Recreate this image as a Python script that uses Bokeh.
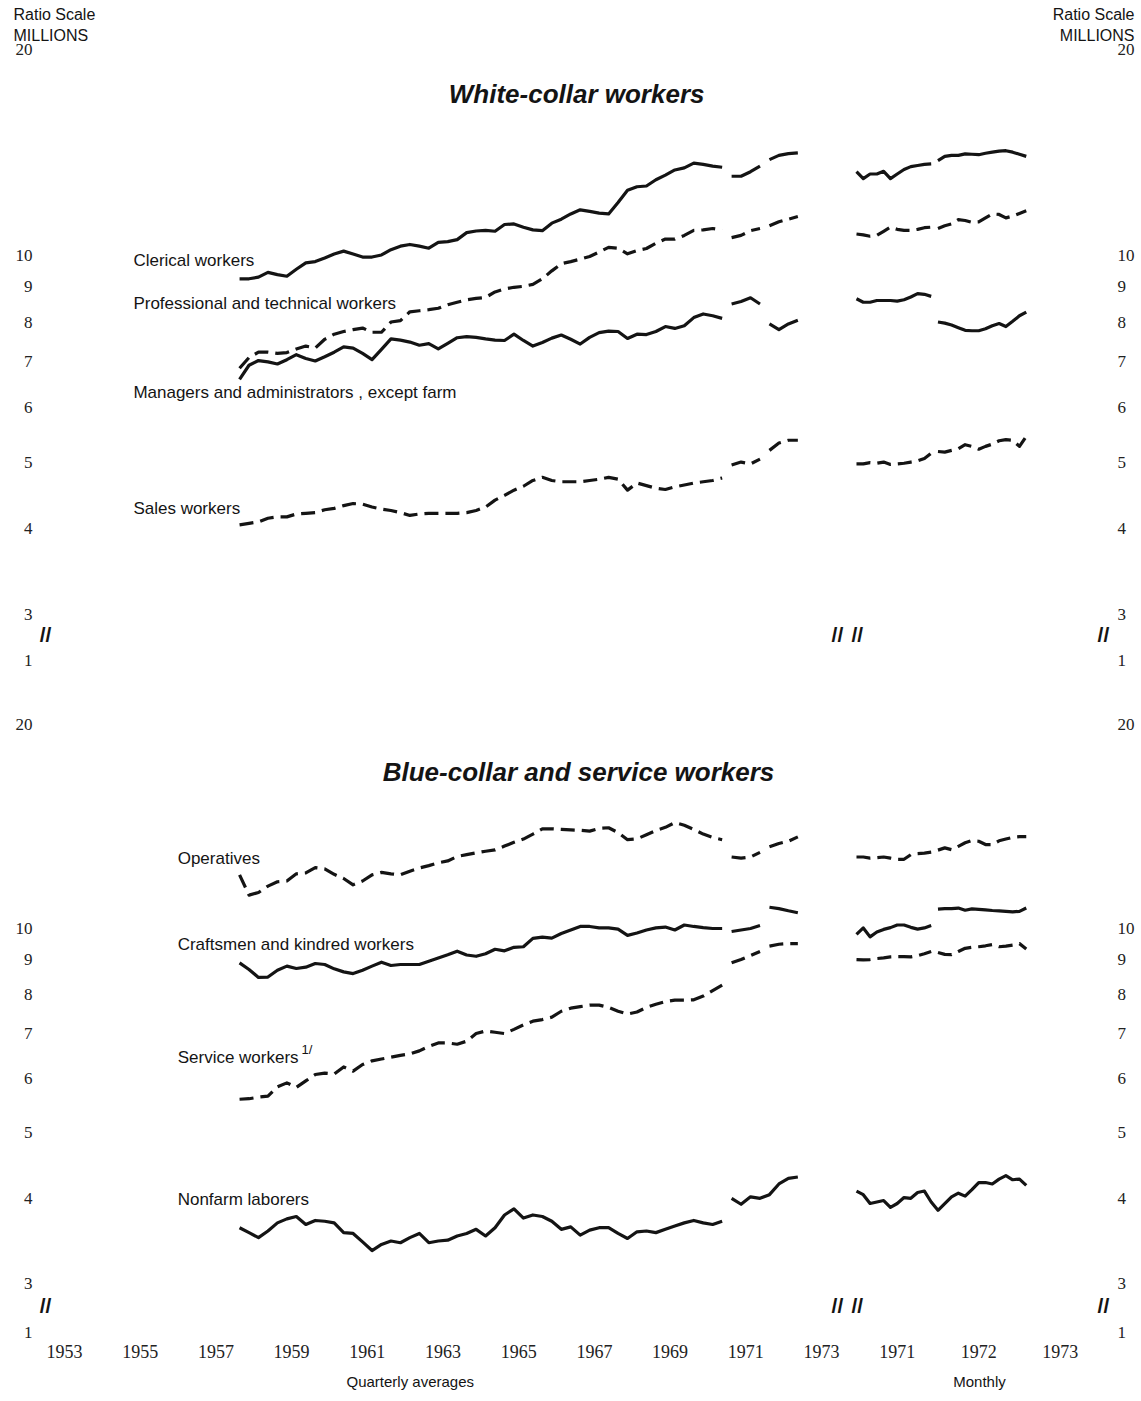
from bokeh.plotting import figure
from bokeh.layouts import column, row
from bokeh.models import FixedTicker, CustomJSTickFormatter, Label, Range1d, Title
from bokeh.embed import file_html
from bokeh.resources import INLINE

# ---------------- time axes ----------------
q_years = [1958 + 0.125 + 0.25 * i for i in range(52)]          # 1958Q1 .. 1970Q4
q71_t = [1971.125, 1971.375, 1971.625, 1971.875]
q72_t = [1972.125, 1972.375, 1972.625, 1972.875]
m71_t = [1971 + i / 12 for i in range(12)]                      # Jan..Dec 1971
m72_t = [1972 + i / 12 for i in range(14)]                      # Jan 1972 .. Feb 1973

q_tick_years = [1953, 1955, 1957, 1959, 1961, 1963, 1965, 1967, 1969, 1971, 1973]
m_tick_years = [1971, 1972, 1973]
y_ticks = [3, 4, 5, 6, 7, 8, 9, 10, 20]

# ---------------- white-collar (millions) ----------------
clerical_q = [9.25, 9.25, 9.3, 9.45, 9.38, 9.33, 9.55, 9.76, 9.8, 9.92,
              10.05, 10.15, 10.05, 9.95, 9.95, 10.02, 10.2, 10.32, 10.38, 10.32,
              10.25, 10.45, 10.48, 10.55, 10.8, 10.86, 10.88, 10.85, 11.1, 11.12,
              11.0, 10.9, 10.87, 11.15, 11.3, 11.5, 11.66, 11.6, 11.53, 11.5,
              11.95, 12.45, 12.6, 12.63, 12.9, 13.1, 13.33, 13.42, 13.64, 13.58,
              13.5, 13.45]
clerical_q71 = [13.05, 13.05, 13.25, 13.5]
clerical_q72 = [13.8, 14.0, 14.08, 14.12]
clerical_m71 = [13.25, 12.95, 13.15, 13.15, 13.27, 12.95, 13.15, 13.35, 13.48, 13.53, 13.58, 13.6]
clerical_m72 = [13.75, 13.95, 14.0, 14.0, 14.07, 14.05, 14.03, 14.1, 14.15, 14.2, 14.22, 14.15, 14.05, 13.95]

prof_q = [6.85, 7.1, 7.23, 7.23, 7.2, 7.22, 7.31, 7.38, 7.33, 7.55,
          7.68, 7.75, 7.8, 7.84, 7.73, 7.73, 8.0, 8.04, 8.28, 8.31,
          8.34, 8.38, 8.48, 8.55, 8.62, 8.66, 8.69, 8.85, 8.94, 8.99,
          9.02, 9.08, 9.25, 9.5, 9.73, 9.8, 9.88, 9.97, 10.12, 10.28,
          10.25, 10.06, 10.17, 10.24, 10.42, 10.57, 10.57, 10.7, 10.88, 10.9,
          10.95, 10.9]
prof_q71 = [10.62, 10.7, 10.87, 10.95]
prof_q72 = [11.05, 11.2, 11.3, 11.4]
prof_m71 = [10.75, 10.72, 10.67, 10.7, 10.85, 11.0, 10.92, 10.88, 10.88, 10.92, 10.98, 11.0]
prof_m72 = [10.95, 11.05, 11.12, 11.28, 11.25, 11.18, 11.2, 11.35, 11.5, 11.48, 11.35, 11.42, 11.52, 11.62]

mgr_q = [6.6, 6.92, 7.03, 7.0, 6.95, 7.05, 7.17, 7.08, 7.02, 7.12,
         7.23, 7.36, 7.33, 7.2, 7.05, 7.3, 7.56, 7.53, 7.48, 7.4,
         7.44, 7.31, 7.45, 7.59, 7.62, 7.6, 7.56, 7.53, 7.52, 7.68,
         7.52, 7.38, 7.47, 7.58, 7.66, 7.55, 7.43, 7.6, 7.72, 7.76,
         7.75, 7.57, 7.68, 7.67, 7.75, 7.88, 7.83, 7.9, 8.12, 8.22,
         8.17, 8.1]
mgr_q71 = [8.5, 8.57, 8.68, 8.5]
mgr_q72 = [7.95, 7.8, 7.95, 8.05]
mgr_m71 = [8.65, 8.55, 8.55, 8.6, 8.6, 8.6, 8.58, 8.62, 8.7, 8.8, 8.78, 8.72]
mgr_m72 = [8.0, 7.97, 7.92, 7.85, 7.78, 7.77, 7.77, 7.82, 7.9, 7.96, 7.88, 8.02, 8.17, 8.27]

sales_q = [4.05, 4.07, 4.09, 4.14, 4.16, 4.16, 4.2, 4.21, 4.22, 4.26,
           4.28, 4.32, 4.35, 4.34, 4.3, 4.27, 4.25, 4.22, 4.18, 4.2,
           4.21, 4.21, 4.21, 4.21, 4.22, 4.25, 4.3, 4.4, 4.47, 4.55,
           4.61, 4.7, 4.75, 4.7, 4.68, 4.68, 4.68, 4.7, 4.72, 4.75,
           4.72, 4.55, 4.66, 4.62, 4.58, 4.56, 4.6, 4.63, 4.66, 4.68,
           4.7, 4.74]
sales_q71 = [4.95, 5.0, 4.97, 5.05]
sales_q72 = [5.2, 5.33, 5.38, 5.38]
sales_m71 = [4.97, 4.97, 4.99, 4.98, 5.0, 4.96, 4.97, 4.98, 5.0, 5.02, 5.06, 5.15]
sales_m72 = [5.18, 5.17, 5.2, 5.23, 5.3, 5.27, 5.22, 5.27, 5.31, 5.37, 5.39, 5.38, 5.27, 5.45]

# ---------------- blue-collar and service (millions) ----------------
oper_q = [12.0, 11.2, 11.3, 11.55, 11.72, 11.75, 12.04, 12.08, 12.3, 12.25,
          12.02, 11.85, 11.6, 11.75, 12.0, 12.1, 12.04, 12.0, 12.15, 12.28,
          12.38, 12.5, 12.58, 12.77, 12.85, 12.93, 13.0, 13.06, 13.23, 13.4,
          13.55, 13.78, 14.03, 14.03, 14.0, 13.98, 13.96, 13.92, 14.05, 14.08,
          13.85, 13.52, 13.56, 13.75, 13.95, 14.1, 14.33, 14.2, 14.0, 13.78,
          13.62, 13.52]
oper_q71 = [12.75, 12.7, 12.75, 12.95]
oper_q72 = [13.2, 13.35, 13.45, 13.65]
oper_m71 = [12.75, 12.75, 12.7, 12.72, 12.75, 12.7, 12.65, 12.65, 12.85, 12.9, 12.92, 12.96]
oper_m72 = [13.05, 13.15, 13.07, 13.22, 13.38, 13.48, 13.45, 13.3, 13.3, 13.47, 13.55, 13.63, 13.66, 13.66]

craft_q = [8.9, 8.7, 8.47, 8.48, 8.68, 8.8, 8.73, 8.77, 8.88, 8.85,
           8.72, 8.63, 8.58, 8.68, 8.8, 8.92, 8.82, 8.85, 8.85, 8.85,
           8.95, 9.05, 9.15, 9.26, 9.14, 9.1, 9.18, 9.32, 9.27, 9.38,
           9.4, 9.67, 9.71, 9.68, 9.83, 9.95, 10.07, 10.07, 10.02, 10.02,
           9.98, 9.77, 9.85, 9.95, 10.02, 10.05, 9.95, 10.12, 10.07, 10.03,
           10.0, 10.0]
craft_q71 = [9.9, 9.95, 10.0, 10.1]
craft_q72 = [10.75, 10.7, 10.62, 10.55]
craft_m71 = [9.8, 10.02, 9.72, 9.88, 9.97, 10.03, 10.12, 10.12, 10.04, 9.98, 10.02, 10.1]
craft_m72 = [10.68, 10.7, 10.7, 10.72, 10.64, 10.69, 10.67, 10.65, 10.63, 10.62, 10.6, 10.58, 10.6, 10.72]

serv_q = [5.6, 5.61, 5.64, 5.66, 5.84, 5.92, 5.83, 5.96, 6.09, 6.12,
          6.1, 6.25, 6.16, 6.3, 6.38, 6.42, 6.46, 6.5, 6.53, 6.6,
          6.7, 6.78, 6.78, 6.75, 6.82, 7.0, 7.06, 7.03, 7.0, 7.1,
          7.21, 7.3, 7.34, 7.4, 7.55, 7.63, 7.67, 7.71, 7.71, 7.65,
          7.55, 7.48, 7.53, 7.65, 7.73, 7.8, 7.84, 7.84, 7.85, 7.95,
          8.1, 8.25]
serv_q71 = [8.9, 9.0, 9.12, 9.25]
serv_q72 = [9.42, 9.48, 9.5, 9.5]
serv_m71 = [9.0, 8.99, 9.0, 9.03, 9.05, 9.08, 9.09, 9.09, 9.08, 9.12, 9.18, 9.25]
serv_m72 = [9.22, 9.16, 9.15, 9.25, 9.35, 9.38, 9.4, 9.43, 9.47, 9.4, 9.42, 9.45, 9.5, 9.33]

labor_q = [3.62, 3.56, 3.5, 3.58, 3.68, 3.73, 3.76, 3.66, 3.71, 3.7,
           3.68, 3.56, 3.55, 3.45, 3.35, 3.42, 3.46, 3.44, 3.5, 3.55,
           3.44, 3.46, 3.47, 3.52, 3.55, 3.6, 3.52, 3.62, 3.78, 3.86,
           3.74, 3.78, 3.76, 3.7, 3.6, 3.63, 3.53, 3.59, 3.62, 3.62,
           3.55, 3.49, 3.57, 3.58, 3.56, 3.6, 3.64, 3.68, 3.71, 3.68,
           3.66, 3.7]
labor_q71 = [4.0, 3.92, 4.02, 4.0]
labor_q72 = [4.05, 4.2, 4.28, 4.3]
labor_m71 = [4.1, 4.05, 3.93, 3.95, 3.97, 3.88, 3.93, 4.01, 4.0, 4.08, 4.1, 3.95]
labor_m72 = [3.84, 3.93, 4.02, 4.07, 4.03, 4.12, 4.22, 4.22, 4.2, 4.27, 4.32, 4.26, 4.27, 4.18]

INK = "#141414"
SANS = "Liberation Sans"
SERIF = "Liberation Serif"
DASH = "14 7"
BREAK_TOP = 2.57   # position of the "1" label below the scale break
BREAK_BOT = 2.54


def style(p, side, brk):
    p.outline_line_color = None
    p.background_fill_color = "white"
    p.border_fill_color = "white"
    p.xgrid.visible = False
    p.ygrid.visible = False
    for ax in p.yaxis:
        ax.ticker = FixedTicker(ticks=[brk] + y_ticks)
        ax.formatter = CustomJSTickFormatter(code="return tick < 2.9 ? '1' : tick.toFixed(0);")
        ax.axis_line_color = None
        ax.major_tick_line_color = None
        ax.minor_tick_line_color = None
        ax.major_tick_out = 0
        ax.major_tick_in = 0
        ax.minor_tick_out = 0
        ax.minor_tick_in = 0
        ax.major_label_text_font = SERIF
        ax.major_label_text_font_size = "17px"
        ax.major_label_text_color = "#222222"
        ax.major_label_standoff = 6 if side == "left" else 7


def xstyle(p, years):
    ax = p.xaxis[0]
    ax.ticker = FixedTicker(ticks=[y + 0.5 for y in years])
    ax.formatter = CustomJSTickFormatter(code="return Math.floor(tick).toString();")
    ax.axis_line_color = None
    ax.major_tick_line_color = None
    ax.minor_tick_line_color = None
    ax.major_tick_out = 0
    ax.major_tick_in = 0
    ax.minor_tick_out = 0
    ax.minor_tick_in = 0
    ax.major_label_text_font = SERIF
    ax.major_label_text_font_size = "18px"
    ax.major_label_text_color = "#222222"
    ax.major_label_standoff = 4


def series(p, xs_list, ys_list, dashed):
    for xs, ys in zip(xs_list, ys_list):
        p.line(xs, ys, line_color=INK, line_width=3.2,
               line_dash=DASH if dashed else "solid", line_join="round")


def lab(p, x, y, text, size="17px", align="left", style_="normal", font=SANS):
    p.add_layout(Label(x=x, y=y, text=text, text_font=font, text_font_size=size,
                       text_align=align, text_baseline="middle", text_color=INK,
                       text_font_style=style_))


def brk(p, x, y):
    lab(p, x, y, "//", size="21px", align="center", style_="bold")


def side_title(p, text, where, align, offset, standoff, size="16px"):
    p.add_layout(Title(text=text, align=align, offset=offset, standoff=standoff,
                       text_font=SANS, text_font_size=size, text_font_style="normal",
                       text_color=INK), where)


def make(width, height, xr, yr, side, xaxis, mbl, mbr, mbt, mbb, brk_tick):
    p = figure(width=width, height=height, x_range=xr, y_range=yr, y_axis_type="log",
               output_backend="svg", toolbar_location=None,
               x_axis_location="below" if xaxis else None, y_axis_location=side,
               min_border_left=mbl, min_border_right=mbr, min_border_top=mbt,
               min_border_bottom=mbb)
    style(p, side, brk_tick)
    return p


QX = (1952.813, 1974.134)
MX = (1970.902, 1974.117)
TOPY = (2.338, 20.31)
BOTY = (2.468, 21.84)

# ---------------- top row ----------------
tq = make(848, 698, Range1d(*QX), Range1d(*TOPY), "left", False, 38, 3, 44, 10, BREAK_TOP)
tm = make(293, 698, Range1d(*MX), Range1d(*TOPY), "right", False, 0, 31, 44, 10, BREAK_TOP)

side_title(tq, "MILLIONS", "above", "left", -25, 2)
side_title(tq, "Ratio Scale", "above", "left", -25, 1)
side_title(tm, "MILLIONS", "above", "right", -24, 2)
side_title(tm, "Ratio Scale", "above", "right", -24, 1)

for q, q71, q72, m71, m72, dashed in [
        (clerical_q, clerical_q71, clerical_q72, clerical_m71, clerical_m72, False),
        (prof_q, prof_q71, prof_q72, prof_m71, prof_m72, True),
        (mgr_q, mgr_q71, mgr_q72, mgr_m71, mgr_m72, False),
        (sales_q, sales_q71, sales_q72, sales_m71, sales_m72, True)]:
    series(tq, [q_years, q71_t, q72_t], [q, q71, q72], dashed)
    series(tm, [m71_t, m72_t], [m71, m72], dashed)

lab(tq, 1967.03, 17.2, "White-collar workers", size="26px", align="center", style_="bold italic")
lab(tq, 1955.32, 9.83, "Clerical workers")
lab(tq, 1955.32, 8.52, "Professional and technical workers")
lab(tq, 1955.32, 6.31, "Managers and administrators , except farm")
lab(tq, 1955.32, 4.28, "Sales workers")
brk(tq, 1953.0, 2.80)
brk(tq, 1973.92, 2.80)
brk(tm, 1971.01, 2.80)
brk(tm, 1974.03, 2.80)

# ---------------- bottom row ----------------
bq = make(848, 703, Range1d(*QX), Range1d(*BOTY), "left", True, 38, 3, 0, 61, BREAK_BOT)
bm = make(293, 703, Range1d(*MX), Range1d(*BOTY), "right", True, 0, 31, 0, 61, BREAK_BOT)
xstyle(bq, q_tick_years)
xstyle(bm, m_tick_years)
side_title(bq, "Quarterly averages", "below", "left", 308, 21, size="15px")
side_title(bm, "Monthly", "below", "center", 0, 21, size="15px")

series(bq, [q_years, q71_t, q72_t], [oper_q, oper_q71, oper_q72], True)
series(bm, [m71_t, m72_t], [oper_m71, oper_m72], True)
series(bq, [q_years, q71_t, q72_t], [craft_q, craft_q71, craft_q72], False)
series(bm, [m71_t, m72_t], [craft_m71, craft_m72], False)
series(bq, [q_years, q71_t, q72_t], [serv_q, serv_q71, serv_q72], True)
series(bm, [m71_t, m72_t], [serv_m71, serv_m72], True)
series(bq, [q_years, q71_t + q72_t], [labor_q, labor_q71 + labor_q72], False)
series(bm, [m71_t + m72_t], [labor_m71 + labor_m72], False)

lab(bq, 1967.08, 17.04, "Blue-collar and service workers", size="26px", align="center", style_="bold italic")
lab(bq, 1956.49, 12.68, "Operatives")
lab(bq, 1956.49, 9.47, "Craftsmen and kindred workers")
lab(bq, 1956.49, 6.45, "Service workers")
lab(bq, 1959.76, 6.62, "1/", size="13px")
lab(bq, 1956.49, 3.98, "Nonfarm laborers")
brk(bq, 1953.0, 2.78)
brk(bq, 1973.92, 2.78)
brk(bm, 1971.01, 2.78)
brk(bm, 1974.03, 2.78)

layout = column(row(tq, tm), row(bq, bm))
open("out.html", "w").write(file_html(layout, INLINE))
